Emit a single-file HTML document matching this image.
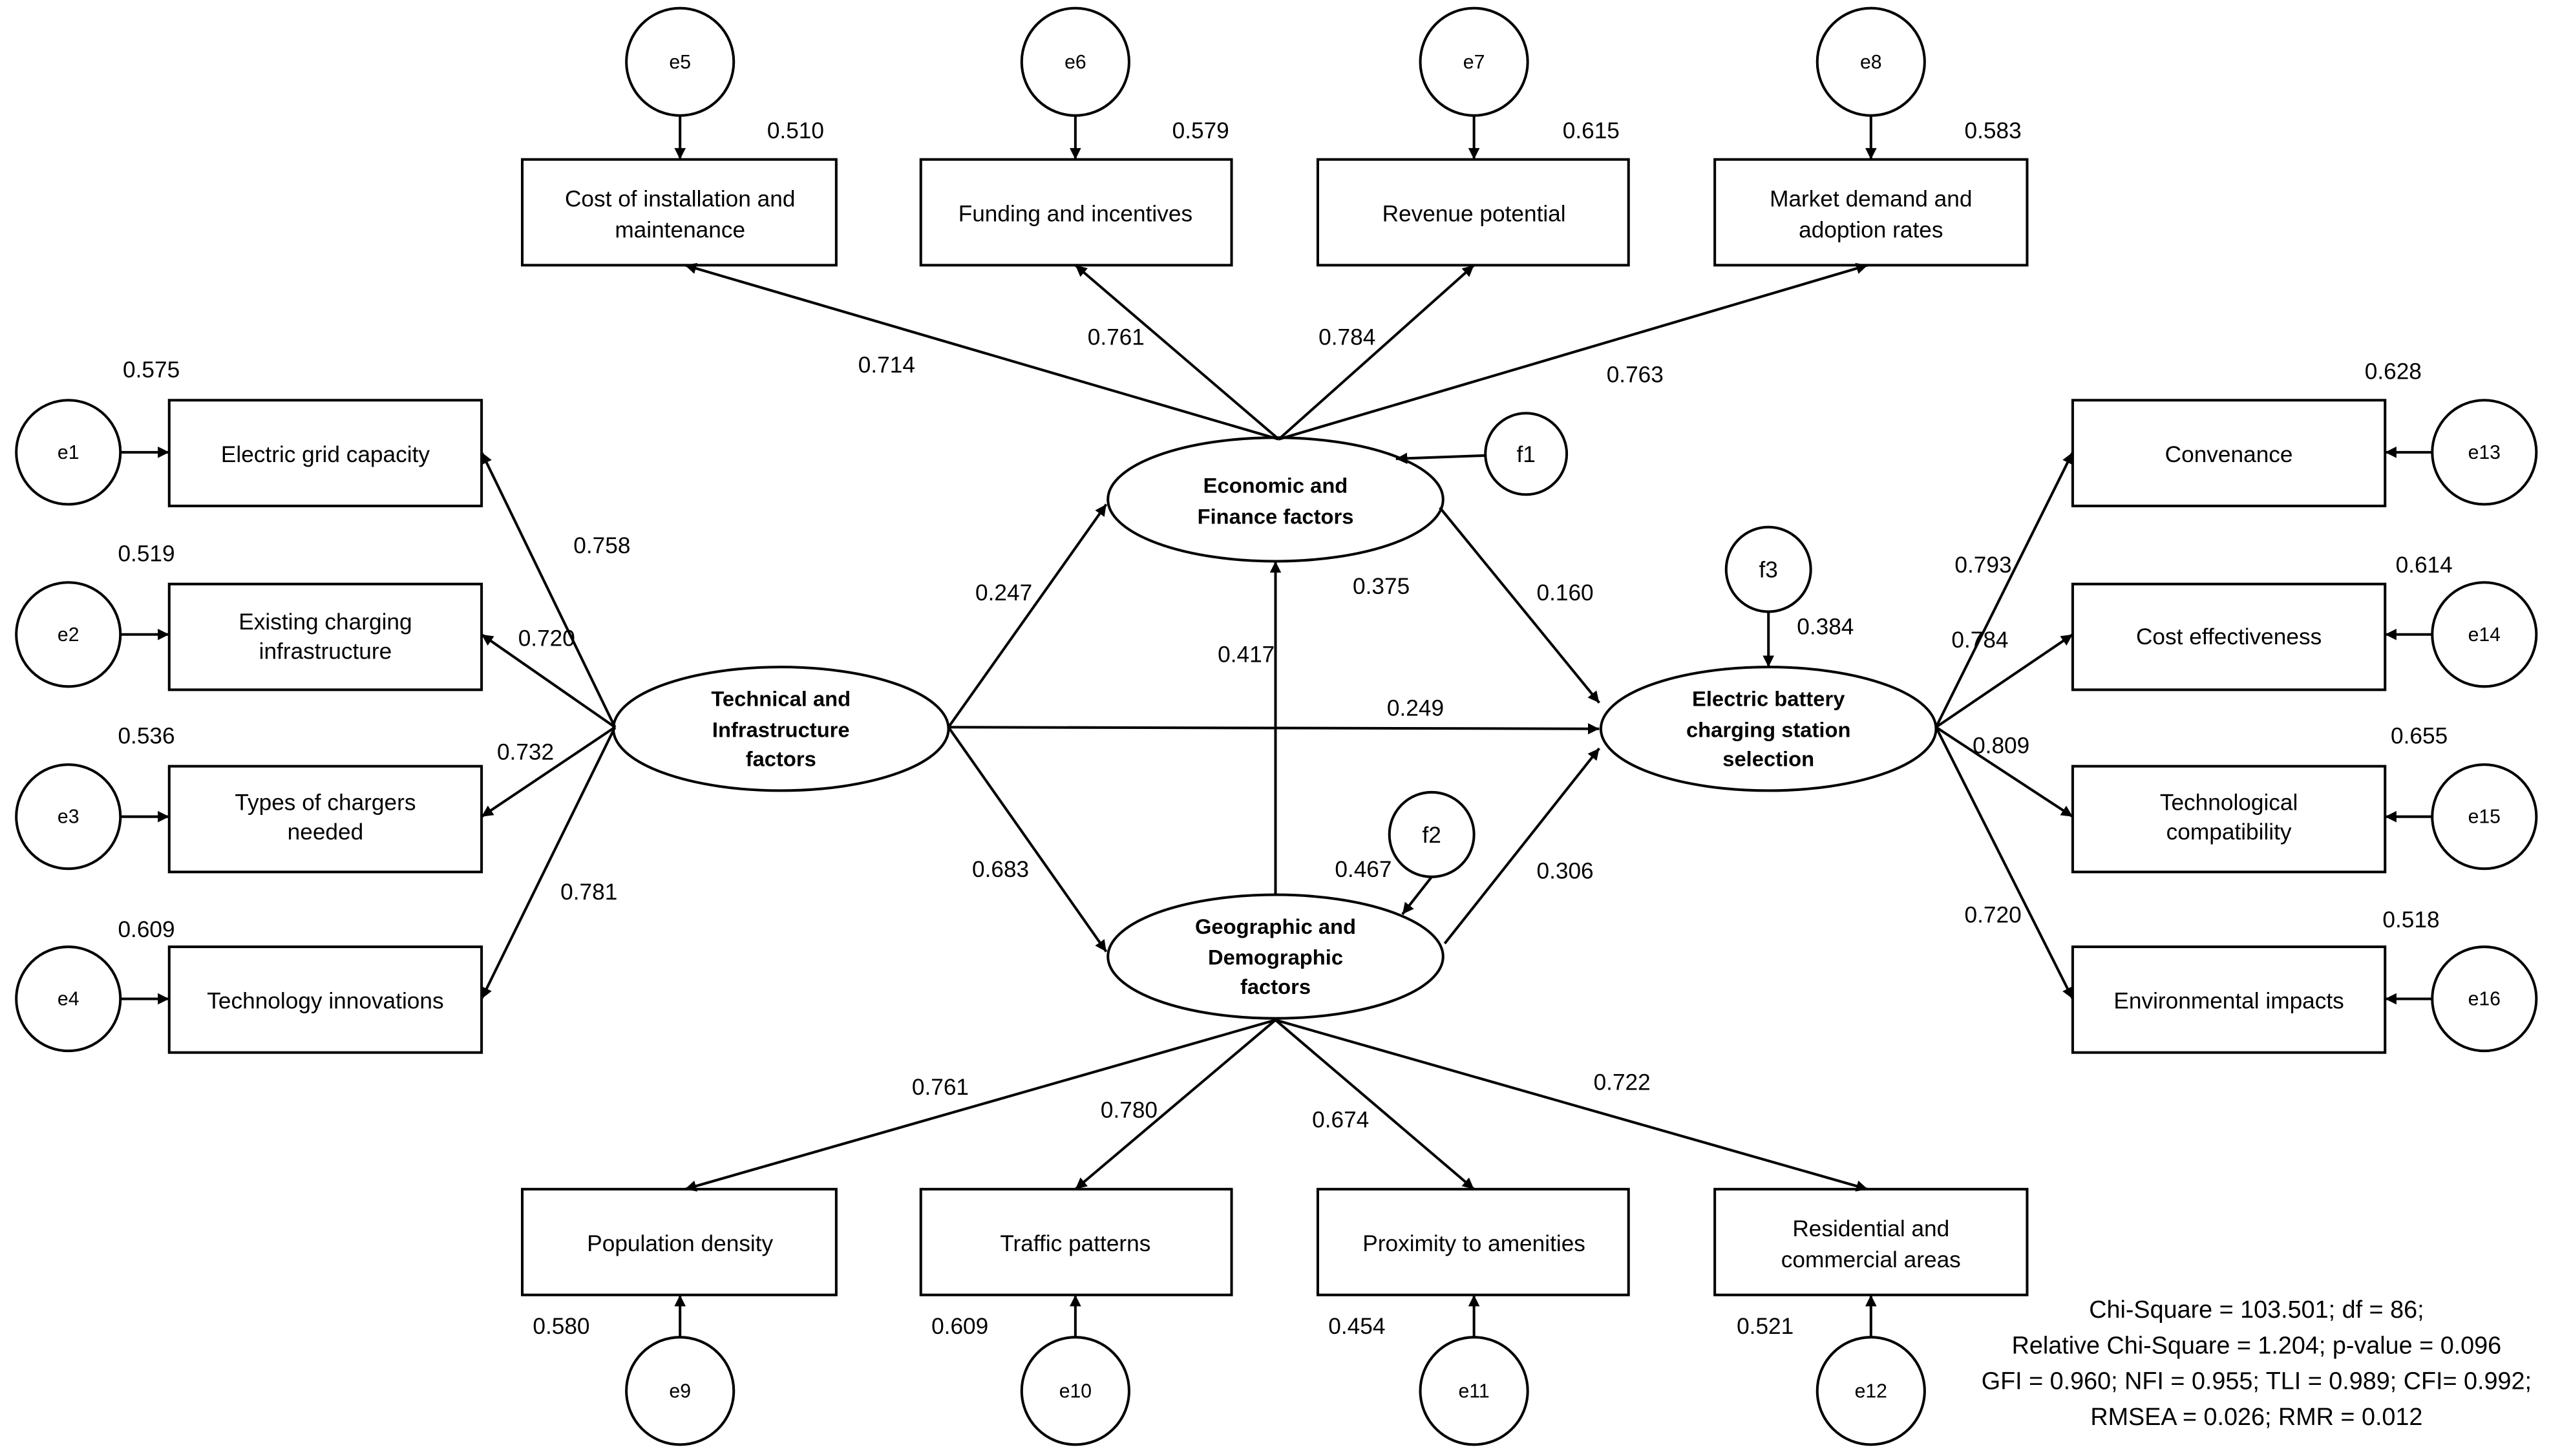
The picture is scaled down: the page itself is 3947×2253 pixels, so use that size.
<!DOCTYPE html>
<html><head><meta charset="utf-8"><style>html,body{margin:0;padding:0;background:#fff}svg{display:block}</style></head><body>
<svg width="3947" height="2253" viewBox="0 0 1568 895" xmlns="http://www.w3.org/2000/svg" font-family="Liberation Sans, sans-serif">
<defs><marker id="a" viewBox="0 0 10 10" refX="10" refY="5" markerWidth="7" markerHeight="7" markerUnits="userSpaceOnUse" orient="auto"><path d="M0,0 L10,5 L0,10 z" fill="#000"/></marker></defs>
<g stroke="#000" stroke-width="1.6" fill="#fff">
<rect x="321" y="98" width="193" height="65"/><rect x="566" y="98" width="191" height="65"/><rect x="810" y="98" width="191" height="65"/><rect x="1054" y="98" width="192" height="65"/>
<rect x="321" y="731" width="193" height="65"/><rect x="566" y="731" width="191" height="65"/><rect x="810" y="731" width="191" height="65"/><rect x="1054" y="731" width="192" height="65"/>
<rect x="104" y="246" width="192" height="65"/><rect x="104" y="359" width="192" height="65"/><rect x="104" y="471" width="192" height="65"/><rect x="104" y="582" width="192" height="65"/>
<rect x="1274" y="246" width="192" height="65"/><rect x="1274" y="359" width="192" height="65"/><rect x="1274" y="471" width="192" height="65"/><rect x="1274" y="582" width="192" height="65"/>
<circle cx="418" cy="38" r="33"/><circle cx="661" cy="38" r="33"/><circle cx="906" cy="38" r="33"/><circle cx="1150" cy="38" r="33"/>
<circle cx="418" cy="855" r="33"/><circle cx="661" cy="855" r="33"/><circle cx="906" cy="855" r="33"/><circle cx="1150" cy="855" r="33"/>
<circle cx="42" cy="278" r="32"/><circle cx="42" cy="390" r="32"/><circle cx="42" cy="502" r="32"/><circle cx="42" cy="614" r="32"/>
<circle cx="1527" cy="278" r="32"/><circle cx="1527" cy="390" r="32"/><circle cx="1527" cy="502" r="32"/><circle cx="1527" cy="614" r="32"/>
<ellipse cx="784" cy="307" rx="103" ry="38"/><ellipse cx="480" cy="448" rx="103" ry="38"/><ellipse cx="784" cy="588" rx="103" ry="38"/><ellipse cx="1087" cy="448" rx="103" ry="38"/>
<circle cx="938" cy="279" r="25"/><circle cx="880" cy="513" r="26"/><circle cx="1087" cy="350" r="26"/>
</g>
<g stroke="#000" stroke-width="1.6" fill="none" marker-end="url(#a)">
<line x1="418" y1="71" x2="418" y2="98"/><line x1="661" y1="71" x2="661" y2="98"/><line x1="906" y1="71" x2="906" y2="98"/><line x1="1150" y1="71" x2="1150" y2="98"/>
<line x1="418" y1="822" x2="418" y2="796"/><line x1="661" y1="822" x2="661" y2="796"/><line x1="906" y1="822" x2="906" y2="796"/><line x1="1150" y1="822" x2="1150" y2="796"/>
<line x1="74" y1="278" x2="104" y2="278"/><line x1="74" y1="390" x2="104" y2="390"/><line x1="74" y1="502" x2="104" y2="502"/><line x1="74" y1="614" x2="104" y2="614"/>
<line x1="1495" y1="278" x2="1466" y2="278"/><line x1="1495" y1="390" x2="1466" y2="390"/><line x1="1495" y1="502" x2="1466" y2="502"/><line x1="1495" y1="614" x2="1466" y2="614"/>
<line x1="786" y1="270" x2="421" y2="163"/><line x1="786" y1="270" x2="661" y2="163"/><line x1="786" y1="270" x2="906" y2="163"/><line x1="786" y1="270" x2="1148" y2="163"/>
<line x1="784" y1="627" x2="421" y2="731"/><line x1="784" y1="627" x2="661" y2="731"/><line x1="784" y1="627" x2="906" y2="731"/><line x1="784" y1="627" x2="1148" y2="731"/>
<line x1="378" y1="447" x2="296" y2="278"/><line x1="378" y1="447" x2="296" y2="390"/><line x1="378" y1="447" x2="296" y2="502"/><line x1="378" y1="447" x2="296" y2="614"/>
<line x1="1190" y1="447" x2="1274" y2="278"/><line x1="1190" y1="447" x2="1274" y2="390"/><line x1="1190" y1="447" x2="1274" y2="502"/><line x1="1190" y1="447" x2="1274" y2="614"/>
<line x1="583" y1="447" x2="680" y2="310"/><line x1="583" y1="447" x2="983" y2="448"/><line x1="583" y1="447" x2="680" y2="585"/>
<line x1="784" y1="550" x2="784" y2="345"/><line x1="885" y1="312" x2="983" y2="432"/><line x1="888" y1="580" x2="983" y2="460"/>
<line x1="913" y1="280" x2="858" y2="282"/><line x1="880" y1="539" x2="862" y2="562"/><line x1="1087" y1="376" x2="1087" y2="410"/>
</g>
<g font-size="14" text-anchor="middle" fill="#000">
<text x="418" y="127">Cost of installation and</text><text x="418" y="146">maintenance</text>
<text x="661" y="136">Funding and incentives</text><text x="906" y="136">Revenue potential</text>
<text x="1150" y="127">Market demand and</text><text x="1150" y="146">adoption rates</text>
<text x="418" y="769">Population density</text><text x="661" y="769">Traffic patterns</text><text x="906" y="769">Proximity to amenities</text>
<text x="1150" y="760">Residential and</text><text x="1150" y="779">commercial areas</text>
<text x="200" y="284">Electric grid capacity</text><text x="200" y="387">Existing charging</text><text x="200" y="405">infrastructure</text>
<text x="200" y="498">Types of chargers</text><text x="200" y="516">needed</text><text x="200" y="620">Technology innovations</text>
<text x="1370" y="284">Convenance</text><text x="1370" y="396">Cost effectiveness</text><text x="1370" y="498">Technological</text><text x="1370" y="516">compatibility</text><text x="1370" y="620">Environmental impacts</text>
</g>
<g font-size="13" font-weight="bold" text-anchor="middle">
<text x="784" y="303">Economic and</text><text x="784" y="322">Finance factors</text>
<text x="480" y="434">Technical  and</text><text x="480" y="453">Infrastructure</text><text x="480" y="471">factors</text>
<text x="784" y="574">Geographic and</text><text x="784" y="593">Demographic</text><text x="784" y="611">factors</text>
<text x="1087" y="434">Electric battery</text><text x="1087" y="453">charging station</text><text x="1087" y="471">selection</text>
</g>
<g font-size="12" text-anchor="middle">
<text x="418" y="42">e5</text><text x="661" y="42">e6</text><text x="906" y="42">e7</text><text x="1150" y="42">e8</text>
<text x="418" y="859">e9</text><text x="661" y="859">e10</text><text x="906" y="859">e11</text><text x="1150" y="859">e12</text>
<text x="42" y="282">e1</text><text x="42" y="394">e2</text><text x="42" y="506">e3</text><text x="42" y="618">e4</text>
<text x="1527" y="282">e13</text><text x="1527" y="394">e14</text><text x="1527" y="506">e15</text><text x="1527" y="618">e16</text>
</g>
<g font-size="14" text-anchor="middle">
<text x="938" y="284">f1</text><text x="880" y="518">f2</text><text x="1087" y="355">f3</text>
<text x="489" y="85">0.510</text><text x="738" y="85">0.579</text><text x="978" y="85">0.615</text><text x="1225" y="85">0.583</text>
<text x="345" y="820">0.580</text><text x="590" y="820">0.609</text><text x="834" y="820">0.454</text><text x="1085" y="820">0.521</text>
<text x="93" y="232">0.575</text><text x="90" y="345">0.519</text><text x="90" y="457">0.536</text><text x="90" y="576">0.609</text>
<text x="1471" y="233">0.628</text><text x="1490" y="352">0.614</text><text x="1487" y="457">0.655</text><text x="1482" y="570">0.518</text>
<text x="545" y="229">0.714</text><text x="686" y="212">0.761</text><text x="828" y="212">0.784</text><text x="1005" y="235">0.763</text>
<text x="370" y="340">0.758</text><text x="336" y="397">0.720</text><text x="323" y="467">0.732</text><text x="362" y="553">0.781</text>
<text x="617" y="369">0.247</text><text x="870" y="440">0.249</text><text x="615" y="539">0.683</text>
<text x="766" y="407">0.417</text><text x="962" y="369">0.160</text><text x="849" y="365">0.375</text><text x="1122" y="390">0.384</text>
<text x="838" y="539">0.467</text><text x="962" y="540">0.306</text>
<text x="1219" y="352">0.793</text><text x="1217" y="398">0.784</text><text x="1230" y="463">0.809</text><text x="1225" y="567">0.720</text>
<text x="578" y="673">0.761</text><text x="694" y="687">0.780</text><text x="824" y="693">0.674</text><text x="997" y="670">0.722</text>
</g>
<g font-size="15" text-anchor="middle">
<text x="1387" y="810">Chi-Square = 103.501; df = 86;</text>
<text x="1387" y="832">Relative Chi-Square = 1.204; p-value = 0.096</text>
<text x="1387" y="854">GFI = 0.960; NFI = 0.955; TLI = 0.989; CFI= 0.992;</text>
<text x="1387" y="876">RMSEA = 0.026; RMR = 0.012</text>
</g>
</svg>
</body></html>
